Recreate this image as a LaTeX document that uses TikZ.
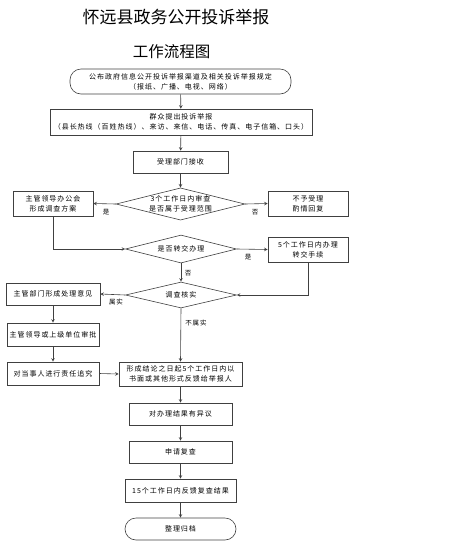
\documentclass[tikz,border=0pt]{standalone}
\usepackage{fontspec}
\usepackage{tikz}
\usetikzlibrary{shapes.geometric}
\newfontfamily\cjk[LetterSpace=14]{Noto Sans CJK SC}
\newfontfamily\cjktitle{Noto Sans CJK SC}

\begin{document}
\begin{tikzpicture}[x=1pt,y=-1pt,
    box/.style={draw=black!75,line width=0.6pt,inner sep=0pt,align=center,font=\cjk\fontsize{7}{10}\selectfont},
    term/.style={box,rounded corners=11pt},
    dia/.style={box,diamond,aspect=4},
    lbl/.style={inner sep=0pt,font=\cjk\fontsize{6.5}{8}\selectfont},
    >=stealth]
          \useasboundingbox (0,0) rectangle (464,547);

          \node[font=\cjktitle\fontsize{17}{20}\selectfont] (t1) at (176,17) {怀远县政务公开投诉举报};
          \node[font=\cjktitle\fontsize{15.5}{18}\selectfont] (t2) at (171.5,52) {工作流程图};

          \node[term,minimum width=221,minimum height=25] (pub) at (180.5,81.5) {公布政府信息公开投诉举报渠道及相关投诉举报规定\\（报纸、广播、电视、网络）};
          \node[box,minimum width=262,minimum height=26] (mass) at (181,122) {群众提出投诉举报\\（县长热线（百姓热线）、来访、来信、电话、传真、电子信箱、口头）};
          \node[box,minimum width=95,minimum height=22] (recv) at (180.5,162) {受理部门接收};
          \node[dia,minimum width=123,minimum height=32] (chk) at (180.5,204) {3个工作日内审查\\是否属于受理范围};
          \node[box,minimum width=80,minimum height=25] (plan) at (53,203.5) {主管领导办公会\\形成调查方案};
          \node[box,minimum width=80,minimum height=25] (rej) at (308,203.5) {不予受理\\酌情回复};
          \node[dia,minimum width=111,minimum height=28] (xfer) at (181,249) {是否转交办理};
          \node[box,minimum width=80,minimum height=25] (five) at (308,249.5) {5个工作日内办理\\转交手续};
          \node[dia,minimum width=111,minimum height=26] (inv) at (181,295) {调查核实};
          \node[box,minimum width=94,minimum height=22] (opin) at (53,294) {主管部门形成处理意见};
          \node[box,minimum width=92,minimum height=23] (appr) at (53,334.5) {主管领导或上级单位审批};
          \node[box,minimum width=92,minimum height=23] (resp) at (53,373.5) {对当事人进行责任追究};
          \node[box,minimum width=123,minimum height=24] (concl) at (180.5,374) {形成结论之日起5个工作日内以\\书面或其他形式反馈给举报人};
          \node[box,minimum width=103,minimum height=22] (obj) at (180.5,414) {对办理结果有异议};
          \node[box,minimum width=103,minimum height=22] (rev) at (180.5,452) {申请复查};
          \node[box,minimum width=111,minimum height=23] (fb) at (180.5,490.5) {15个工作日内反馈复查结果};
          \node[term,minimum width=111,minimum height=22] (arch) at (180.5,529) {整理归档};

          \draw[->,black!75,line width=0.6pt](pub)--(mass);
          \draw[->,black!75,line width=0.6pt](mass)--(recv);
          \draw[->,black!75,line width=0.6pt](recv)--(chk);
          \draw[->,black!75,line width=0.6pt](chk.west)--(plan.east);
          \draw[->,black!75,line width=0.6pt](chk.east)--(rej.west);
          \draw[->,black!75,line width=0.6pt](plan.south)|-(xfer.west);
          \draw[->,black!75,line width=0.6pt](xfer.east)--(five.west);
          \draw[->,black!75,line width=0.6pt](xfer.south)--(inv.north);
          \draw[->,black!75,line width=0.6pt](five.south)|-(inv.east);
          \draw[->,black!75,line width=0.6pt](inv.west)--(opin.east);
          \draw[->,black!75,line width=0.6pt](inv.south)--(concl.north);
          \draw[->,black!75,line width=0.6pt](opin)--(appr);
          \draw[->,black!75,line width=0.6pt](appr)--(resp);
          \draw[->,black!75,line width=0.6pt](resp.east)--(concl.west);
          \draw[->,black!75,line width=0.6pt](concl)--(obj);
          \draw[->,black!75,line width=0.6pt](obj)--(rev);
          \draw[->,black!75,line width=0.6pt](rev)--(fb);
          \draw[->,black!75,line width=0.6pt](fb)--(arch);

          \node[lbl] (yes1) at (106,212) {是};
          \node[lbl] (no1) at (255,212) {否};
          \node[lbl] (yes2) at (248,257) {是};
          \node[lbl] (no2) at (188,273) {否};
          \node[lbl] (true) at (116,302) {属实};
          \node[lbl] (false) at (196,323) {不属实};
        \end{tikzpicture}
\end{document}
